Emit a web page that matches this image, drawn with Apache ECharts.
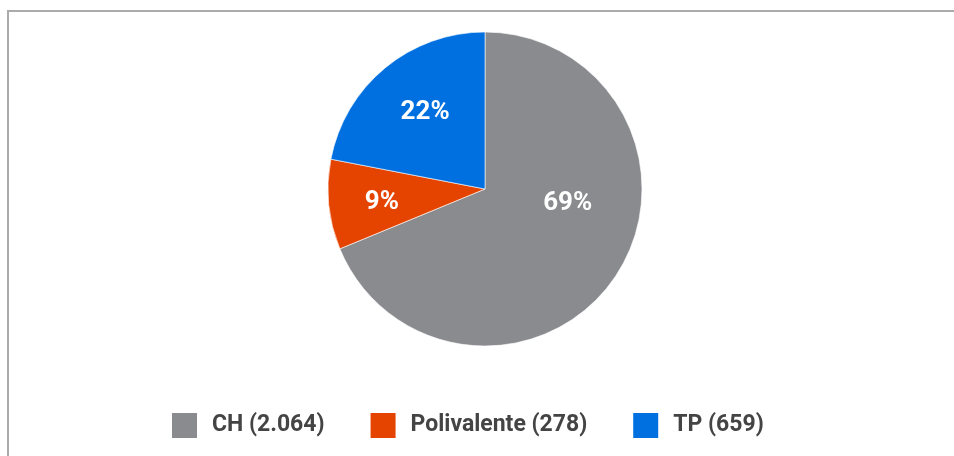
<!DOCTYPE html>
<html>
<head>
<meta charset="utf-8">
<script src="https://cdn.jsdelivr.net/npm/echarts@6/dist/echarts.min.js"></script>
<style>
  html, body { margin: 0; padding: 0; background: #fff; }
  #frame { position: absolute; left: 7px; top: 10px; right: 0; bottom: 0;
           border-top: 2px solid #ababab; border-left: 2px solid #ababab; }
  #chart { position: absolute; left: 0; top: 0; width: 954px; height: 456px; }
</style>
</head>
<body>
<div id="frame"></div>
<div id="chart"></div>
<script>
const categories = ['CH (2.064)', 'Polivalente (278)', 'TP (659)'];
const values = [2064, 278, 659];
const colors = ['#898b8e', '#e54400', '#0070e0'];
// label nudges (px) to mimic original label placement
const labelNudge = [[15, -31], [-22, 5], [-8, -14]];

const chart = echarts.init(document.getElementById('chart'), null, { renderer: 'canvas' });
const total = values.reduce((a, b) => a + b, 0);
chart.setOption({
  animation: false,
  color: colors,
  legend: {
    bottom: 16,
    left: 170,
    padding: 0,
    itemWidth: 27,
    itemHeight: 27,
    itemGap: 44,
    icon: 'rect',
    textStyle: { fontFamily: 'Roboto', fontWeight: 'bold', fontSize: 23, color: '#444', padding: [0, 0, 0, 9] },
    data: categories
  },
  series: [{
    type: 'pie',
    center: [485, 189],
    radius: 157,
    startAngle: 90,
    clockwise: true,
    itemStyle: { borderColor: '#fff', borderWidth: 0.6 },
    label: {
      position: 'inside',
      formatter: p => Math.round(p.value / total * 100) + '%',
      fontFamily: 'Roboto', fontWeight: 'bold', fontSize: 26, color: '#fff'
    },
    labelLine: { show: false },
    labelLayout: p => ({ dx: labelNudge[p.dataIndex][0], dy: labelNudge[p.dataIndex][1] }),
    emphasis: { disabled: true },
    data: categories.map((c, i) => ({ name: c, value: values[i] }))
  }]
});
</script>
</body>
</html>
